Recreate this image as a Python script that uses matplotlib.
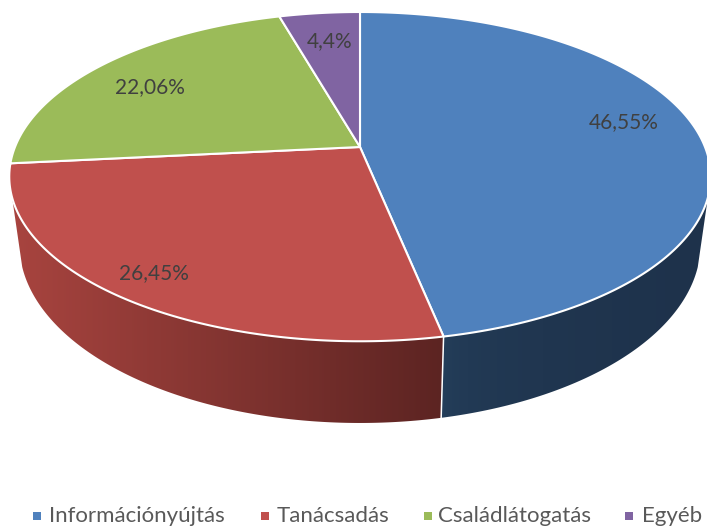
import numpy as np
import matplotlib
matplotlib.use("Agg")
import matplotlib.pyplot as plt
from matplotlib.colors import to_rgb
from matplotlib.patches import Polygon

categories = ["Információnyújtás", "Tanácsadás", "Családlátogatás", "Egyéb"]
values = [46.55, 26.45, 22.06, 4.4]
value_labels = ["46,55%", "26,45%", "22,06%", "4,4%"]
colors = ["#4F81BD", "#C0504D", "#9BBB59", "#8064A2"]

label_x = [624, 154, 150, 330]
label_y = [122, 273, 87, 41]
legend_x = [37, 265, 428, 629]
legend_text_x = [49, 277, 438, 642]

# perspective of the pie, angles run clockwise from the top
CX, CY = 360, 147
K = 0.18
WALL_START = np.radians(107.5)
WALL_STOP = np.radians(252.5)


def top_rim(theta):
    w = 1 + K * np.cos(theta)
    return CX + 345 * np.sin(theta) / w, CY - 159.3 * np.cos(theta) / w


def bottom_rim(theta):
    w = 1 + K * np.cos(theta)
    return CX + 335 * np.sin(theta) / w, CY + 65 - 173 * np.cos(theta) / w


fig = plt.figure(figsize=(7.07, 5.28), dpi=100)
ax = fig.add_axes([0, 0, 1, 1])

edges = np.cumsum([0] + values) / sum(values) * 2 * np.pi

# side wall: gradient images clipped to the wall outline, colours go left to right
walls = [(WALL_START, edges[1], "#26425F", "#1E324B", 0.3),
         (edges[1], WALL_STOP, "#A8443F", "#5C2422", 1.0)]
for start, stop, c_left, c_right, power in walls:
    t = np.linspace(start, stop, 300)
    tx, ty = top_rim(t)
    bx, by = bottom_rim(t)
    xs = np.r_[tx, bx[::-1]]
    ys = np.r_[ty, by[::-1]]
    grad = np.linspace(0, 1, 256)[None, :, None] ** power
    img = np.array(to_rgb(c_left)) + (np.array(to_rgb(c_right)) - np.array(to_rgb(c_left))) * grad
    outline = Polygon(np.c_[xs, ys], closed=True, transform=ax.transData,
                      facecolor="none", edgecolor="none")
    ax.add_patch(outline)
    im = ax.imshow(img, extent=[xs.min(), xs.max(), ys.max(), ys.min()],
                   aspect="auto", zorder=1)
    im.set_clip_path(outline)

ax.set_xlim(0, 707)
ax.set_ylim(528, 0)
ax.axis("off")

# white line between the two visible walls
tx, ty = top_rim(edges[1])
bx, by = bottom_rim(edges[1])
ax.plot([tx, bx], [ty, by], color="white", lw=1.1, zorder=2)

# top of the pie
for i in range(len(values)):
    t = np.linspace(edges[i], edges[i + 1], 300)
    x, y = top_rim(t)
    ax.fill(np.r_[CX, x], np.r_[CY, y], facecolor=colors[i],
            edgecolor="white", lw=1.5, zorder=3, joinstyle="round")
    ax.text(label_x[i], label_y[i], value_labels[i], color="#404040",
            family="Lato", fontsize=15, ha="center", va="center", zorder=4)

# legend
for i in range(len(categories)):
    ax.scatter(legend_x[i], 516, marker="s", s=32, color=colors[i],
               linewidths=0, zorder=4)
    ax.text(legend_text_x[i], 516, categories[i], color="#595959",
            family="Lato", fontsize=16, ha="left", va="center", zorder=4)

fig.savefig("out.png", dpi=100)
